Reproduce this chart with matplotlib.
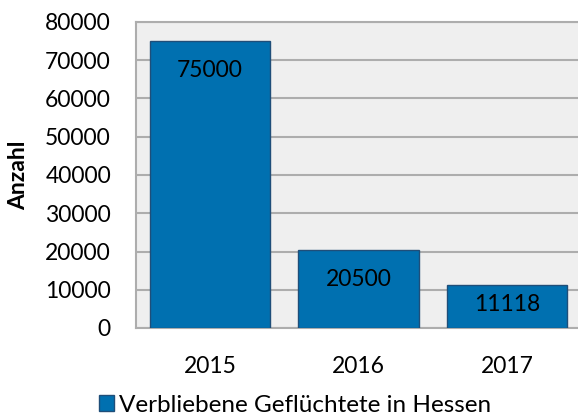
import matplotlib.pyplot as plt

years = ["2015", "2016", "2017"]
values = [75000, 20500, 11118]
series_name = "Verbliebene Geflüchtete in Hessen"

plt.rcParams['font.family'] = ['Lato', 'DejaVu Sans']

fig = plt.figure(figsize=(5.78, 4.16), dpi=100)
ax = fig.add_axes([136 / 578, 1 - 328 / 416, (581 - 136) / 578, (328 - 22) / 416])
ax.set_facecolor('#efefef')

x = range(len(years))
bars = ax.bar(x, values, width=0.81, color='#0070b0', edgecolor='#1f4e79',
              linewidth=1, zorder=3, label=series_name)
for b, v in zip(bars, values):
    ypos = max(v - 7800, v * 0.55)
    ax.text(b.get_x() + b.get_width() / 2, ypos, str(v), ha='center', va='center',
            fontsize=16.5, color='black', zorder=4)

ax.set_xlim(-0.5, 2.5)
ax.set_ylim(0, 80000)
ax.set_yticks(range(0, 80001, 10000))
ax.set_xticks(list(x))
ax.set_xticklabels(years)
ax.tick_params(axis='both', length=0, labelsize=16.5)
ax.tick_params(axis='y', pad=18)
ax.tick_params(axis='x', pad=20)
ax.grid(axis='y', color='#adadad', linewidth=1.5, zorder=1)
for s in ['top', 'left', 'bottom']:
    ax.spines[s].set_color('#adadad')
    ax.spines[s].set_linewidth(1.5)
ax.spines['right'].set_visible(False)

# y label placed directly so it sits centered at the left edge
fig.text(19 / 578, 1 - 175 / 416, 'Anzahl', rotation=90, ha='center', va='center',
         fontsize=16.5, fontweight='bold')

fig.legend(handles=[bars], labels=[series_name], loc='center',
           bbox_to_anchor=(295 / 578, 1 - 405 / 416), frameon=False,
           fontsize=17.5, handlelength=0.65, handleheight=0.65, handletextpad=0.2,
           borderpad=0, borderaxespad=0)

fig.savefig('out.png', dpi=100)
